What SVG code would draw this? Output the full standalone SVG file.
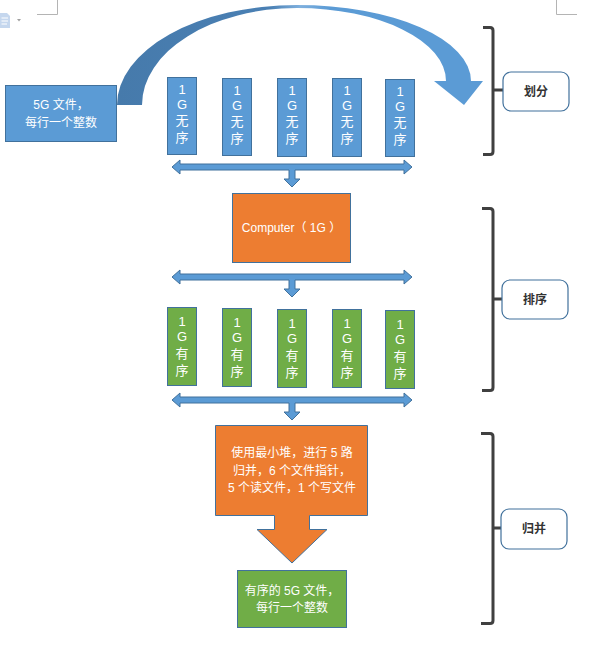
<svg xmlns="http://www.w3.org/2000/svg" width="589" height="654" viewBox="0 0 589 654">
<defs>
<linearGradient id="curveGrad" gradientUnits="userSpaceOnUse" x1="117" y1="0" x2="483" y2="0">
<stop offset="0" stop-color="#467aab"/>
<stop offset="0.42" stop-color="#4a80b4"/>
<stop offset="0.5" stop-color="#7fb0de"/>
<stop offset="0.58" stop-color="#5b9bd5"/>
<stop offset="1" stop-color="#5b9bd5"/>
</linearGradient>
</defs>
<style>
.blue{fill:#5b9bd5;stroke:#41719c;stroke-width:1}
.green{fill:#70ad47;stroke:#41719c;stroke-width:1}
.orange{fill:#ed7d31;stroke:#41719c;stroke-width:1}
.conn{fill:#5b9bd5;stroke:#41719c;stroke-width:1}
.label{fill:#ffffff;stroke:#41719c;stroke-width:1.2}
.bracket{fill:none;stroke:#404040;stroke-width:3;stroke-linejoin:round}
.t{font-family:"Liberation Sans","Noto Sans CJK SC",sans-serif;font-size:12px;fill:#ffffff;text-anchor:middle;dominant-baseline:central}
.tv{font-family:"Liberation Sans","Noto Sans CJK SC",sans-serif;font-size:13px;fill:#ffffff;text-anchor:middle;dominant-baseline:central}
.tb{font-family:"Liberation Sans","Noto Sans CJK SC",sans-serif;font-size:12px;font-weight:bold;fill:#333333;text-anchor:middle;dominant-baseline:central}
.mark{fill:none;stroke:#b4b4b4;stroke-width:1}
</style>

<g id="page-marks">
<path class="mark" d="M57.5,0 V14.5 H37"/>
<path class="mark" d="M556.5,0 V14.5 H577"/>
<path d="M0,13 H7 L10,16 V28 H0 Z" fill="#c5d7ee"/>
<path d="M1.5,18 H8 M1.5,21 H8 M1.5,24 H7" stroke="#ffffff" stroke-width="1"/>
<path d="M17,19 L21,19 L19,21.5 Z" fill="#a0a0a0"/>
</g>

<g id="connectors">
<path id="curved-arrow" fill="url(#curveGrad)" d="M117,105 A180,100 0 0 1 297,5 A174,76 0 0 1 471,81 L483,81 L464,105 L434,81 L446,81 A149,73 0 0 0 297,8 A155,97 0 0 0 142,105 Z"/>
<path id="split-arrow-1" class="conn" d="M172,167 L180,160 V164 H404 V160 L412,167 L404,174 V170 H295 V179 H300 L292,187 L284,179 H289 V170 H180 V174 Z"/>
<path id="split-arrow-2" class="conn" d="M172,277 L180,270 V274 H404 V270 L412,277 L404,284 V280 H295 V289 H300 L292,297 L284,289 H289 V280 H180 V284 Z"/>
<path id="split-arrow-3" class="conn" d="M172,400 L180,393 V397 H404 V393 L412,400 L404,407 V403 H295 V412 H300 L292,420 L284,412 H289 V403 H180 V407 Z"/>
</g>

<g id="source-file">
<rect class="blue" x="5.5" y="85.5" width="111" height="56"/>
<text class="t" x="61" y="105">5G 文件，</text>
<text class="t" x="61" y="123">每行一个整数</text>
</g>

<g id="unsorted-1">
<rect class="blue" x="167.5" y="77.5" width="29" height="77"/>
<text class="tv" x="182" y="89">1</text><text class="tv" x="182" y="104">G</text><text class="tv" x="182" y="120">无</text><text class="tv" x="182" y="137">序</text>
</g>
<g id="unsorted-2">
<rect class="blue" x="222.5" y="78.5" width="29" height="77"/>
<text class="tv" x="237" y="90">1</text><text class="tv" x="237" y="105">G</text><text class="tv" x="237" y="121">无</text><text class="tv" x="237" y="138">序</text>
</g>
<g id="unsorted-3">
<rect class="blue" x="277.5" y="78.5" width="29" height="78"/>
<text class="tv" x="292" y="90">1</text><text class="tv" x="292" y="105">G</text><text class="tv" x="292" y="121">无</text><text class="tv" x="292" y="138">序</text>
</g>
<g id="unsorted-4">
<rect class="blue" x="332.5" y="78.5" width="29" height="78"/>
<text class="tv" x="347" y="90">1</text><text class="tv" x="347" y="105">G</text><text class="tv" x="347" y="121">无</text><text class="tv" x="347" y="138">序</text>
</g>
<g id="unsorted-5">
<rect class="blue" x="385.5" y="79.5" width="29" height="77"/>
<text class="tv" x="400" y="91">1</text><text class="tv" x="400" y="106">G</text><text class="tv" x="400" y="122">无</text><text class="tv" x="400" y="139">序</text>
</g>

<g id="computer">
<rect class="orange" x="232.5" y="193.5" width="118" height="69"/>
<text class="t" x="291.5" y="228">Computer（ 1G ）</text>
</g>

<g id="sorted-1">
<rect class="green" x="167.5" y="307.5" width="29" height="78"/>
<text class="tv" x="182" y="321">1</text><text class="tv" x="182" y="336">G</text><text class="tv" x="182" y="353">有</text><text class="tv" x="182" y="370">序</text>
</g>
<g id="sorted-2">
<rect class="green" x="222.5" y="308.5" width="29" height="78"/>
<text class="tv" x="237" y="322">1</text><text class="tv" x="237" y="337">G</text><text class="tv" x="237" y="354">有</text><text class="tv" x="237" y="371">序</text>
</g>
<g id="sorted-3">
<rect class="green" x="277.5" y="309.5" width="29" height="78"/>
<text class="tv" x="292" y="323">1</text><text class="tv" x="292" y="338">G</text><text class="tv" x="292" y="355">有</text><text class="tv" x="292" y="372">序</text>
</g>
<g id="sorted-4">
<rect class="green" x="332.5" y="309.5" width="29" height="78"/>
<text class="tv" x="347" y="323">1</text><text class="tv" x="347" y="338">G</text><text class="tv" x="347" y="355">有</text><text class="tv" x="347" y="372">序</text>
</g>
<g id="sorted-5">
<rect class="green" x="385.5" y="310.5" width="29" height="78"/>
<text class="tv" x="400" y="324">1</text><text class="tv" x="400" y="339">G</text><text class="tv" x="400" y="356">有</text><text class="tv" x="400" y="373">序</text>
</g>

<g id="merge">
<path class="orange" d="M215.5,425.5 H367.5 V515.5 H309.5 V529.5 H327 L292,563 L257,529.5 H274.5 V515.5 H215.5 Z"/>
<text class="t" x="292" y="453">使用最小堆，进行 5 路</text>
<text class="t" x="292" y="471">归并，6 个文件指针，</text>
<text class="t" x="292" y="488">5 个读文件，1 个写文件</text>
</g>

<g id="result-file">
<rect class="green" x="237.5" y="570.5" width="109" height="57"/>
<text class="t" x="292" y="591">有序的 5G 文件，</text>
<text class="t" x="292" y="608">每行一个整数</text>
</g>

<g id="stage-split">
<path class="bracket" d="M483,27.5 H490 Q493,27.5 493,30.5 V151.5 Q493,154.5 490,154.5 H483 M493,90 H503"/>
<rect class="label" x="503" y="72" width="66" height="39" rx="8"/>
<text class="tb" x="536" y="92">划分</text>
</g>

<g id="stage-sort">
<path class="bracket" d="M482,208.5 H490 Q493,208.5 493,211.5 V387.5 Q493,390.5 490,390.5 H482 M493,299 H502"/>
<rect class="label" x="502" y="280" width="66" height="39" rx="8"/>
<text class="tb" x="535" y="300">排序</text>
</g>

<g id="stage-merge">
<path class="bracket" d="M481,433.5 H490 Q493,433.5 493,436.5 V620.5 Q493,623.5 490,623.5 H481 M493,528 H502"/>
<rect class="label" x="501" y="509" width="66" height="40" rx="8"/>
<text class="tb" x="534" y="529">归并</text>
</g>
</svg>
